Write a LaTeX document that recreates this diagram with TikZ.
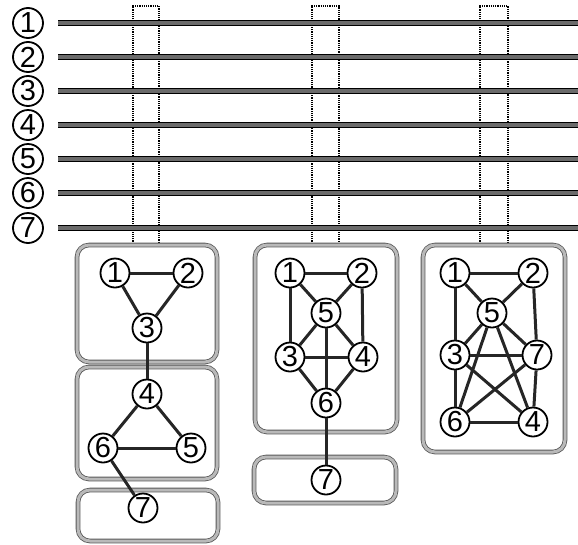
\documentclass[tikz,border=0pt]{standalone}
\usepackage{fontspec}
\setmainfont{Liberation Sans}
\usepackage{tikz}
\usetikzlibrary{calc}

\tikzset{
  vtx/.style={circle, draw, line width=1.8pt, fill=white, inner sep=0pt,
    minimum size=29pt, font=\fontsize{29}{29}\selectfont},
  bar/.style={draw=black, line width=1.4pt, double=black!58, double distance=4pt},
  grp/.style={draw=black!65, line width=0.8pt, double=gray!55, double distance=3pt,
    rounded corners=12pt},
  slot/.style={densely dotted, line width=1.2pt},
  edge/.style={line width=3pt, draw=black!85}
}

\begin{document}
\begin{tikzpicture}[x=1pt, y=-1pt]
  \useasboundingbox (0,0) rectangle (578,544);

  % Time slots
  \foreach \xa/\xb in {133/159, 312/339, 480/508}
    \draw[slot] (\xa,246) -- (\xa,6) -- (\xb,6) -- (\xb,246);

  % Channels
  \foreach \i/\y in {1/23, 2/57, 3/91, 4/125, 5/159, 6/193, 7/228} {
    \node[vtx, minimum size=30pt] (ch\i) at (28,\y) {\i};
    \coordinate (cs\i) at (58,\y);
    \coordinate (ce\i) at (578,\y);
    \draw[bar] (cs\i) -- (ce\i);
  }

  % Groups
  \draw[grp] (77,245) rectangle (217,362);
  \draw[grp] (77,367) rectangle (217,479);
  \draw[grp] (78,490) rectangle (218,541);
  \draw[grp] (255,245) rectangle (397,432);
  \draw[grp] (254,457) rectangle (396,503);
  \draw[grp] (423,245) rectangle (565,452);

  % First graph
  \node[vtx] (a1) at (115,273) {1};
  \node[vtx] (a2) at (188,273) {2};
  \node[vtx] (a3) at (147,328) {3};
  \node[vtx] (a4) at (147,394) {4};
  \node[vtx] (a5) at (191,448) {5};
  \node[vtx] (a6) at (103,448) {6};
  \node[vtx] (a7) at (143,508) {7};
  \foreach \u/\v in {1/2, 1/3, 2/3, 3/4, 4/5, 4/6, 5/6, 6/7}
    \draw[edge] (a\u) -- (a\v);

  % Second graph
  \node[vtx] (b1) at (290,273) {1};
  \node[vtx] (b2) at (362,273) {2};
  \node[vtx] (b5) at (326,313) {5};
  \node[vtx] (b3) at (290,357) {3};
  \node[vtx] (b4) at (363,357) {4};
  \node[vtx] (b6) at (326,403) {6};
  \node[vtx] (b7) at (326,480) {7};
  \foreach \u/\v in {1/2, 1/5, 2/5, 1/3, 2/4, 5/3, 5/4, 5/6, 3/4, 3/6, 4/6, 6/7}
    \draw[edge] (b\u) -- (b\v);

  % Third graph
  \node[vtx] (c1) at (455,273) {1};
  \node[vtx] (c2) at (533,273) {2};
  \node[vtx] (c5) at (492,313) {5};
  \node[vtx] (c3) at (455,355) {3};
  \node[vtx] (c7) at (537,355) {7};
  \node[vtx] (c6) at (455,422) {6};
  \node[vtx] (c4) at (533,422) {4};
  \foreach \u/\v in {1/2, 1/5, 2/5, 1/3, 2/7, 5/3, 5/7, 5/6, 5/4, 3/7, 3/6, 3/4, 7/6, 7/4, 6/4}
    \draw[edge] (c\u) -- (c\v);
\end{tikzpicture}
\end{document}
